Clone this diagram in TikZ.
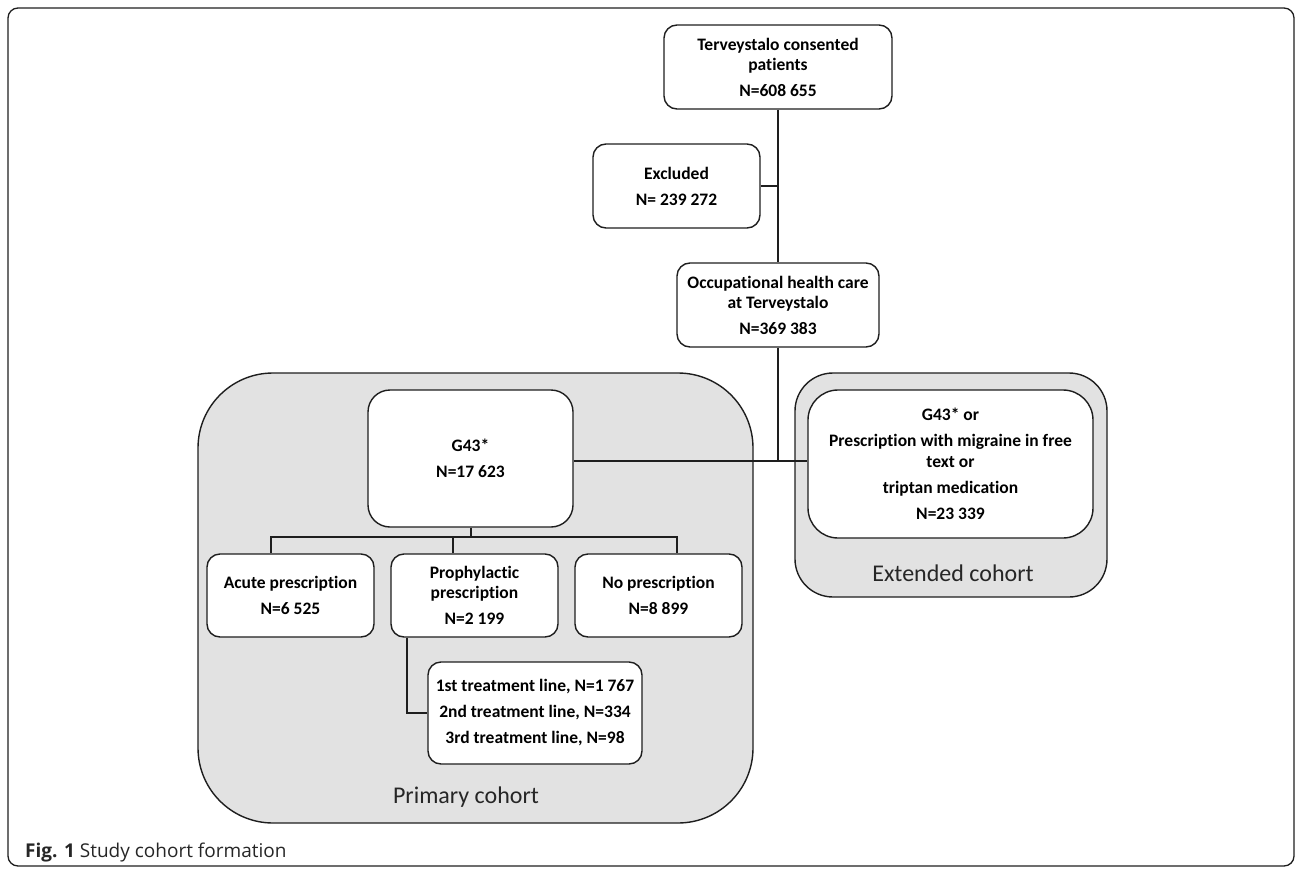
\documentclass[tikz,border=0pt]{standalone}
\usepackage{fontspec}
\setmainfont{Carlito}[Ligatures=NoCommon]
\newfontfamily\capfont{Open Sans}
\definecolor{ln}{HTML}{1E1E1E}
\definecolor{cohortgray}{HTML}{E2E2E2}
\begin{document}
\begin{tikzpicture}[x=1pt,y=-1pt,
  box/.style={draw=ln, line width=1.4pt, rounded corners=13pt, fill=white,
    inner sep=0pt, align=center, text=black,
    font=\fontsize{17.5}{20.5}\selectfont\bfseries},
  conn/.style={draw=ln, line width=1.4pt},
  cohort/.style={draw=ln, line width=1.4pt, fill=cohortgray},
  cohortlabel/.style={font=\fontsize{24}{28}\selectfont, text=black!85, inner sep=0pt}]
\useasboundingbox (0,0) rectangle (1296,870);
% outer frame
\draw[draw=ln, line width=1.3pt, rounded corners=10pt] (8,8) rectangle (1294,866);
% cohort backgrounds
\draw[cohort, rounded corners=75pt] (198,373) rectangle (753,823);
\draw[cohort, rounded corners=38pt] (795,373) rectangle (1107,597);
\node[cohortlabel] (plabel) at (466,797) {Primary cohort};
\node[cohortlabel] (elabel) at (953,573) {Extended cohort};
% boxes
\node[box, minimum width=228pt, minimum height=84pt] (top) at (778,67)
  {Terveystalo consented\\patients\\[5pt]N=608 655};
\node[box, minimum width=167pt, minimum height=84pt] (excl) at (676.5,186)
  {Excluded\\[5.5pt]N= 239 272};
\node[box, minimum width=202pt, minimum height=84pt] (occ) at (778,305)
  {Occupational health care\\at Terveystalo\\[5pt]N=369 383};
\node[box, rounded corners=22pt, minimum width=205pt, minimum height=137pt] (g43) at (470.5,458.5)
  {G43*\\[5.5pt]N=17 623};
\node[box, rounded corners=30pt, minimum width=285pt, minimum height=148pt] (ext) at (950.5,464)
  {G43* or\\[5.5pt]Prescription with migraine in free\\text or\\[5.5pt]triptan medication\\[5.5pt]N=23 339};
\node[box, minimum width=167pt, minimum height=83pt] (acute) at (290.5,595.5)
  {Acute prescription\\[5.5pt]N=6 525};
\node[box, minimum width=167pt, minimum height=83pt] (proph) at (474.5,595.5)
  {Prophylactic\\prescription\\[5.5pt]N=2 199};
\node[box, minimum width=167pt, minimum height=83pt] (noprx) at (658.5,595.5)
  {No prescription\\[5.5pt]N=8 899};
\node[box, minimum width=214pt, minimum height=102pt] (treat) at (535,713)
  {1st treatment line, N=1 767\\[5.5pt]2nd treatment line, N=334\\[5.5pt]3rd treatment line, N=98};
% connectors
\coordinate (J) at (778,461);
\coordinate (B) at (471,537);
\draw[conn] (top.south) -- (occ.north);
\draw[conn] (excl.east) -- (excl.east -| top.south);
\draw[conn] (occ.south) -- (J);
\draw[conn] (g43.east |- J) -- (J) -- (ext.west |- J);
\draw[conn] (g43.south -| B) -- (B);
\draw[conn] ([xshift=-19.5pt]acute.north) |- (B) -| ([xshift=18.5pt]noprx.north);
\draw[conn] ([xshift=-21.5pt]proph.north) -- ([xshift=-21.5pt]proph.north |- B);
\draw[conn] ([xshift=-67.5pt]proph.south) |- (treat.west);
% caption
\node[anchor=base west, inner sep=0pt, text=black!85, font=\capfont\fontsize{19}{22}\selectfont] (cap) at (25,857)
  {\textbf{Fig. 1} Study cohort formation};
\end{tikzpicture}
\end{document}
